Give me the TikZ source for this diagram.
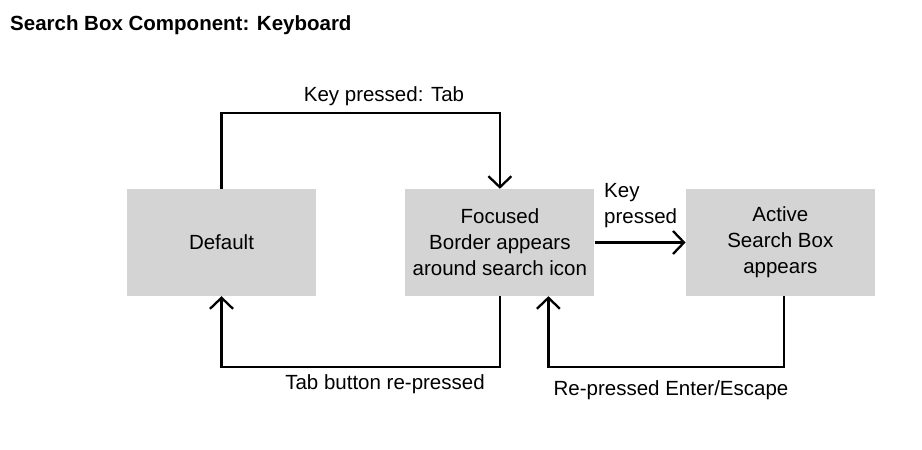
\documentclass[tikz,border=0pt]{standalone}
\usepackage{fontspec}
\setmainfont{Liberation Sans}
\usepackage{tikz}
\usetikzlibrary{arrows.meta, positioning, calc}
\definecolor{boxgray}{RGB}{212,212,212}

\begin{document}
\begin{tikzpicture}[x=1pt, y=1pt,
  state/.style={fill=boxgray, minimum width=189pt, minimum height=107pt, align=center,
    font=\fontsize{20.5}{26}\selectfont, inner sep=2pt},
  link/.style={line width=2.3pt, -{Straight Barb[length=11pt, width=23pt, line width=2.3pt]}},
  lbl/.style={font=\fontsize{20.5}{26}\selectfont, inner sep=1pt}]
  \useasboundingbox (0,0) rectangle (922,450);
  % Title
  \node[anchor=west, inner sep=0pt, font=\bfseries\fontsize{20.5}{24}\selectfont] (title) at (10,425) {Search Box Component: Keyboard};
  % States
  \node[state] (default) at (221.5,207.5) {Default};
  \node[state, right=89pt of default] (focused) {Focused\\Border appears\\around search icon};
  \node[state, right=91pt of focused] (active) {Active\\Search Box\\appears};
  % Tab forward
  \draw[link] (default.north) -- ++(0,76) -| (focused.north);
  \node[lbl] (tabl) at (384,354) {Key pressed: Tab};
  % Key pressed
  \draw[link] (focused.east) -- (active.west);
  \node[lbl, anchor=north west, align=left] (keyl) at (603,268) {Key\\pressed};
  % Tab back
  \draw[link] (focused.south) -- ++(0,-71) -| (default.south);
  \node[lbl] (backl) at (385,66) {Tab button re-pressed};
  % Enter / Escape back
  \draw[link] ([xshift=4pt]active.south) -- ++(0,-71) -| ([xshift=48.5pt]focused.south);
  \node[lbl] (escl) at (671,60) {Re-pressed Enter/Escape};
\end{tikzpicture}
\end{document}
